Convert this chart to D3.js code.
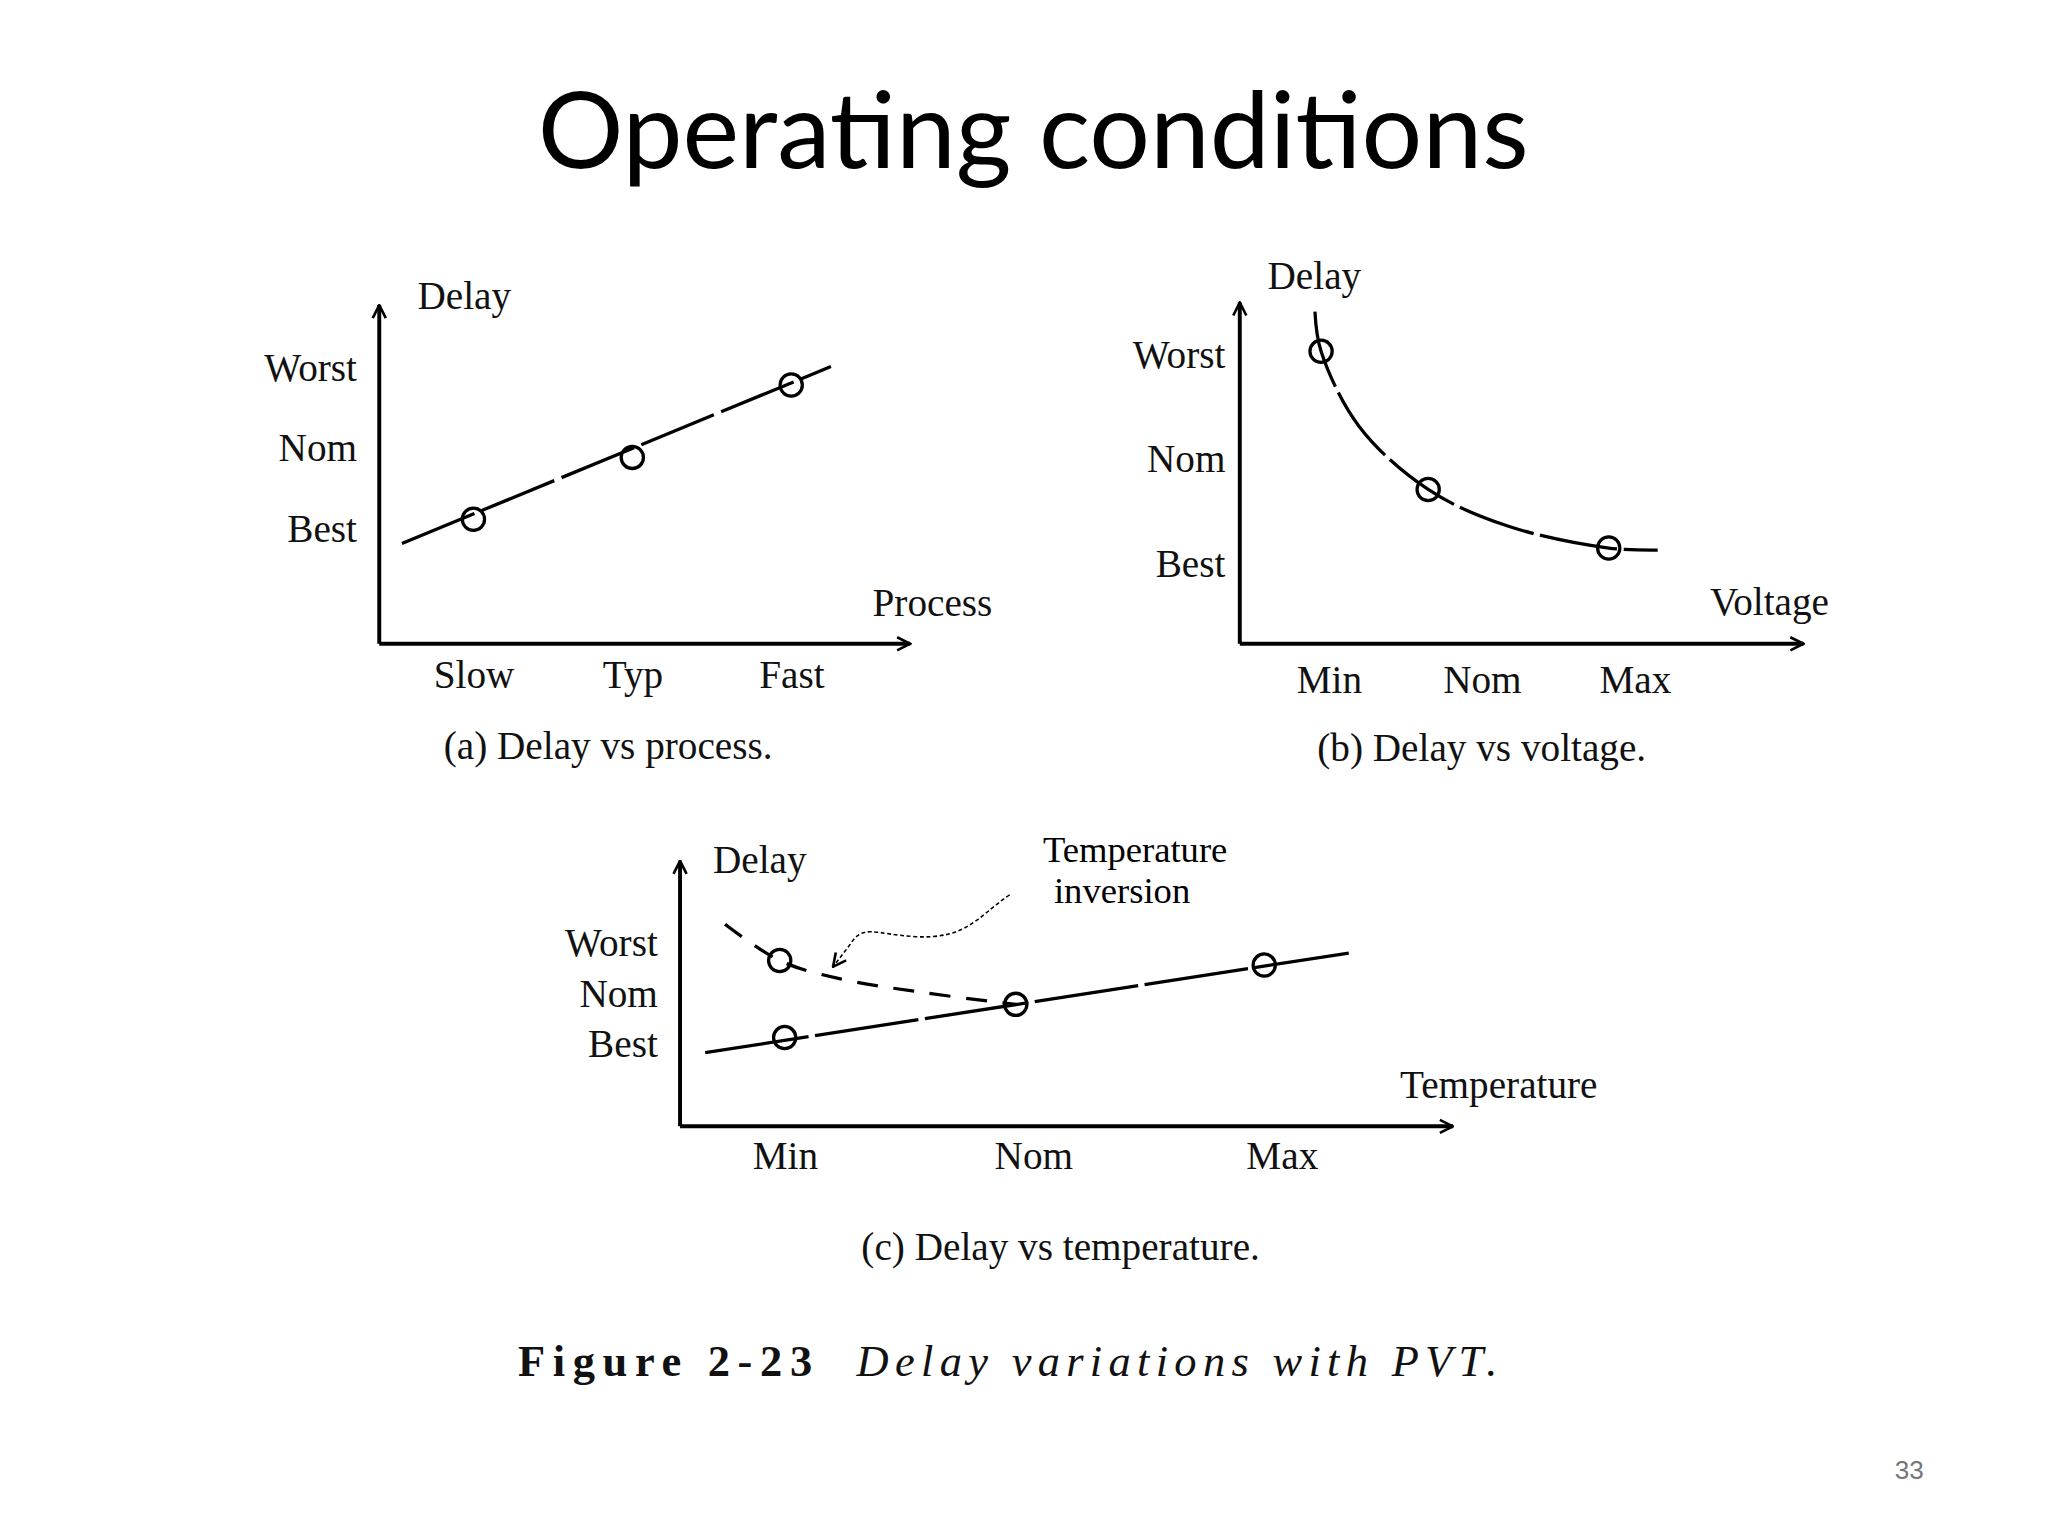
<!DOCTYPE html>
<html><head><meta charset="utf-8">
<script src="https://cdn.jsdelivr.net/npm/d3@7"></script>
<style>body{margin:0;background:#fff}</style></head>
<body><svg id="c" width="2048" height="1536" viewBox="0 0 1566 1174"></svg>
<script>
// ---- data ----
const delayLevels = ["Best","Nom","Worst"];           // y tick labels (values 0,1,2)
const processCats = ["Slow","Typ","Fast"];
const processDelay = [0.1, 0.87, 1.77];
const processLine = [[-0.45,-0.2],[2.25,2.0]];
const voltageCats = ["Min","Nom","Max"];
const voltagePts = [[-0.05,2.02],[0.65,0.7],[1.83,0.14]];
const voltageCurve = [[-0.09,2.4],[-0.05,2.02],[0.2,1.3],[0.65,0.7],[1.17,0.35],[1.83,0.14],[2.15,0.12]];
const tempCats = ["Min","Nom","Max"];
const tempNormalPts = [[0,0.1],[0.93,0.76],[1.93,1.54]];
const tempNormalLine = [[-0.32,-0.2],[2.27,1.78]];
const tempInvPts = [[-0.02,1.63]];
const tempInvCurve = [[-0.24,2.35],[-0.02,1.63],[0.22,1.27],[0.55,1.0],[0.93,0.76]];

const svg = d3.select("#c");
const serif = "'Liberation Serif','DejaVu Serif',serif";

svg.append("text").attr("x",790).attr("y",128).attr("text-anchor","middle")
  .style("font-family","Lato,'Open Sans',sans-serif").style("font-size","82px").text("Operating conditions");

svg.append("defs").append("marker").attr("id","ah").attr("viewBox","0 0 12 12").attr("refX",11).attr("refY",6)
  .attr("markerWidth",12).attr("markerHeight",12).attr("markerUnits","userSpaceOnUse").attr("orient","auto")
  .append("path").attr("d","M1,1 L11,6 L1,11").attr("fill","none").attr("stroke","#000").attr("stroke-width",2);

function panel(o){
  const g = svg.append("g");
  const x = d3.scaleLinear().domain([0,2]).range(o.xr);
  const y = d3.scaleLinear().domain([0,2]).range(o.yr);
  g.append("line").attr("x1",o.ox).attr("y1",o.oy).attr("x2",o.xe).attr("y2",o.oy).attr("stroke","#000").attr("stroke-width",3).attr("marker-end","url(#ah)");
  g.append("line").attr("x1",o.ox).attr("y1",o.oy).attr("x2",o.ox).attr("y2",o.ye).attr("stroke","#000").attr("stroke-width",3).attr("marker-end","url(#ah)");
  const xa = g.append("g").attr("transform",`translate(0,${o.xly})`)
    .call(d3.axisBottom(x).tickValues([0,1,2]).tickFormat(i=>o.cats[i]).tickSize(0));
  const ya = g.append("g").attr("transform",`translate(${o.ylx},0)`)
    .call(d3.axisLeft(y).tickValues([0,1,2]).tickFormat(i=>delayLevels[i]).tickSize(0));
  [xa,ya].forEach(a=>{a.select(".domain").remove();a.selectAll("text").style("font-family",serif).style("font-size","30px").attr("fill","#111");});
  ya.selectAll("text").attr("dy","0.35em");
  xa.selectAll("text").attr("dy","0.35em");
  const txt=(t,px,py,anchor)=>g.append("text").attr("x",px).attr("y",py).attr("text-anchor",anchor||"middle").style("font-family",serif).style("font-size","30px").attr("fill","#111").text(t);
  txt("Delay",o.dl[0],o.dl[1]); txt(o.xname,o.xn[0],o.xn[1]); txt(o.cap,o.cp[0],o.cp[1]);
  const line=d3.line().x(d=>x(d[0])).y(d=>y(d[1]));
  (o.lines||[]).forEach(l=>g.append("path").attr("d",line.curve(l.curve||d3.curveLinear)(l.d)).attr("fill","none").attr("stroke","#000").attr("stroke-width",2.5).attr("stroke-dasharray",l.dash||null));
  (o.pts||[]).forEach(p=>g.append("circle").attr("cx",x(p[0])).attr("cy",y(p[1])).attr("r",8.5).attr("fill","none").attr("stroke","#000").attr("stroke-width",2.5));
  return {g,x,y};
}

panel({ox:290,oy:492,xe:696,ye:233,xr:[362,605],yr:[403,280],xly:512,ylx:276,cats:processCats,
  dl:[355,236],xname:"Process",xn:[713,471],cap:"(a) Delay vs process.",cp:[465,580],
  lines:[{d:processLine,dash:"60,6"}],pts:processCats.map((c,i)=>[i,processDelay[i]])});

panel({ox:948,oy:492,xe:1379,ye:231,xr:[1016,1250],yr:[430,270],xly:516,ylx:940,cats:voltageCats,
  dl:[1005,221],xname:"Voltage",xn:[1353,470],cap:"(b) Delay vs voltage.",cp:[1133,582],
  lines:[{d:voltageCurve,curve:d3.curveCatmullRom,dash:"60,5"}],pts:voltagePts});

const pc = panel({ox:520,oy:861,xe:1111,ye:658,xr:[600,980],yr:[797,720],xly:880,ylx:506,cats:tempCats,
  dl:[581,667],xname:"Temperature",xn:[1146,839],cap:"(c) Delay vs temperature.",cp:[811,963],
  lines:[{d:tempNormalLine,dash:"80,5"},{d:tempInvCurve,curve:d3.curveCatmullRom,dash:"16,12"}],
  pts:tempNormalPts.concat(tempInvPts)});
pc.g.append("text").attr("x",868).attr("y",659).attr("text-anchor","middle").style("font-family",serif).style("font-size","28px").text("Temperature");
pc.g.append("text").attr("x",858).attr("y",690).attr("text-anchor","middle").style("font-family",serif).style("font-size","28px").text("inversion");
pc.g.append("path").attr("d","M772,684 C748,700 740,718 700,716 C668,714 660,706 650,722 L637,739")
  .attr("fill","none").attr("stroke","#000").attr("stroke-width",1.2).attr("stroke-dasharray","3,2").attr("marker-end","url(#ah)");

const cap = svg.append("text").attr("x",396).attr("y",1052).style("font-family",serif).style("font-size","34px").attr("fill","#111");
cap.append("tspan").style("font-weight","bold").attr("textLength",225).text("Figure 2-23");
cap.append("tspan").attr("x",655).style("font-style","italic").attr("textLength",490).text("Delay variations with PVT.");
svg.append("text").attr("x",1460).attr("y",1131).attr("text-anchor","middle").style("font-family","'Liberation Sans',Arial,sans-serif").style("font-size","20px").attr("fill","#777").text("33");
</script></body></html>
